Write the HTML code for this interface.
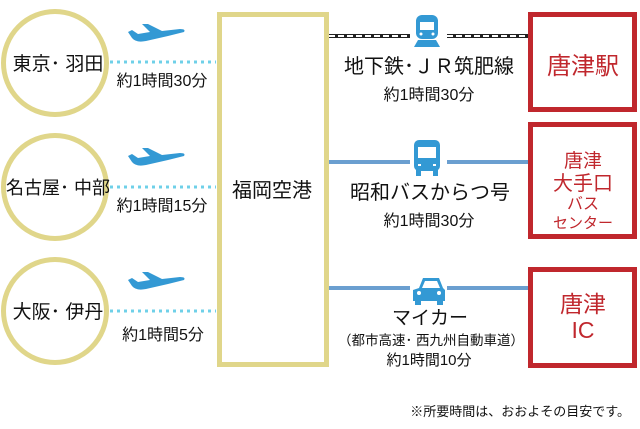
<!DOCTYPE html>
<html><head><meta charset="utf-8"><style>
body{margin:0;background:#fff}
svg text{font-family:"Liberation Sans","Noto Sans CJK JP",sans-serif}
</style></head><body>
<svg width="640" height="424" viewBox="0 0 640 424" xmlns="http://www.w3.org/2000/svg">
<defs>
<g id="plane"><path d="M0,8 L4,6 L10,10 L22,8 L14,0 L20,0 L34,7 L52,5 Q58,5 56,8 L40,12 L18,17 Q8,19 4,14 Z" fill="#3399d4"/></g>
</defs>
<g fill="none" stroke="#e0d68a" stroke-width="5">
<circle cx="55" cy="63" r="51.5"/>
<circle cx="55" cy="187" r="51.5"/>
<circle cx="55" cy="311" r="51.5"/>
<rect x="219.5" y="14.5" width="107" height="350"/>
</g>
<g fill="none" stroke="#c0272d" stroke-width="5">
<rect x="530.5" y="14.5" width="104" height="95"/>
<rect x="530.5" y="124.5" width="104" height="112"/>
<rect x="530.5" y="269.5" width="104" height="96"/>
</g>
<g stroke="#6fd0e8" stroke-width="3" stroke-dasharray="3,4">
<line x1="110" y1="62" x2="216" y2="62"/>
<line x1="110" y1="187" x2="216" y2="187"/>
<line x1="110" y1="311" x2="216" y2="311"/>
</g>
<use href="#plane" x="128" y="24"/>
<use href="#plane" x="128" y="148"/>
<use href="#plane" x="128" y="272"/>
<line x1="329" y1="36" x2="410" y2="36" stroke="#222" stroke-width="4"/>
<line x1="329" y1="36" x2="410" y2="36" stroke="#fff" stroke-width="2" stroke-dasharray="6,3"/>
<line x1="447" y1="36" x2="528" y2="36" stroke="#222" stroke-width="4"/>
<line x1="447" y1="36" x2="528" y2="36" stroke="#fff" stroke-width="2" stroke-dasharray="6,3"/>
<g fill="#3399d4">
<rect x="416" y="15" width="22" height="24" rx="6"/>
<path d="M418,40 L436,40 L440,47 L414,47 Z"/>
</g>
<rect x="420" y="22" width="14" height="8" fill="#fff"/>
<circle cx="421" cy="34" r="1.5" fill="#fff"/><circle cx="433" cy="34" r="1.5" fill="#fff"/>
<line x1="329" y1="162" x2="410" y2="162" stroke="#6b9fd0" stroke-width="4"/>
<line x1="447" y1="162" x2="528" y2="162" stroke="#6b9fd0" stroke-width="4"/>
<rect x="414" y="140" width="26" height="31" rx="5" fill="#3399d4"/>
<rect x="416" y="170" width="5" height="6" fill="#3399d4"/><rect x="433" y="170" width="5" height="6" fill="#3399d4"/>
<rect x="418" y="147" width="18" height="11" fill="#fff"/>
<rect x="418" y="164" width="3" height="2" fill="#fff"/><rect x="433" y="164" width="3" height="2" fill="#fff"/>
<line x1="329" y1="288" x2="410" y2="288" stroke="#6b9fd0" stroke-width="4"/>
<line x1="447" y1="288" x2="528" y2="288" stroke="#6b9fd0" stroke-width="4"/>
<path d="M419,288 L423,278 L439,278 L443,288 L445,290 L445,301 L413,301 L413,290 Z" fill="#3399d4"/>
<rect x="415" y="300" width="6" height="5" fill="#3399d4"/><rect x="437" y="300" width="6" height="5" fill="#3399d4"/>
<path d="M422,288 L425,281 L437,281 L440,288 Z" fill="#fff"/>
<circle cx="419" cy="293" r="2" fill="#fff"/><circle cx="439" cy="293" r="2" fill="#fff"/>
<g fill="#111" text-anchor="middle">
<text x="58" y="70" font-size="19">東京･ 羽田</text>
<text x="58" y="194" font-size="18">名古屋･ 中部</text>
<text x="58" y="318" font-size="19">大阪･ 伊丹</text>
<text x="162" y="86" font-size="16">約1時間30分</text>
<text x="162" y="211" font-size="16">約1時間15分</text>
<text x="163" y="340" font-size="16">約1時間5分</text>
<text x="272" y="197" font-size="20">福岡空港</text>
<text x="429" y="73" font-size="20">地下鉄･ＪＲ筑肥線</text>
<text x="429" y="100" font-size="16">約1時間30分</text>
<text x="430" y="199" font-size="20">昭和バスからつ号</text>
<text x="429" y="226" font-size="16">約1時間30分</text>
<text x="430" y="324" font-size="19">マイカー</text>
<text x="431" y="345" font-size="13.5">（都市高速･ 西九州自動車道）</text>
<text x="429" y="365" font-size="15">約1時間10分</text>
<text x="630" y="416" font-size="13" text-anchor="end">※所要時間は、おおよその目安です。</text>
</g>
<g fill="#c0272d" text-anchor="middle">
<text x="583" y="74" font-size="24">唐津駅</text>
<text x="583" y="167" font-size="19">唐津</text>
<text x="583" y="190" font-size="20">大手口</text>
<text x="583" y="209" font-size="16">バス</text>
<text x="583" y="228" font-size="15">センター</text>
<text x="583" y="312" font-size="23">唐津</text>
<text x="583" y="338" font-size="23">IC</text>
</g>
</svg>
</body></html>
